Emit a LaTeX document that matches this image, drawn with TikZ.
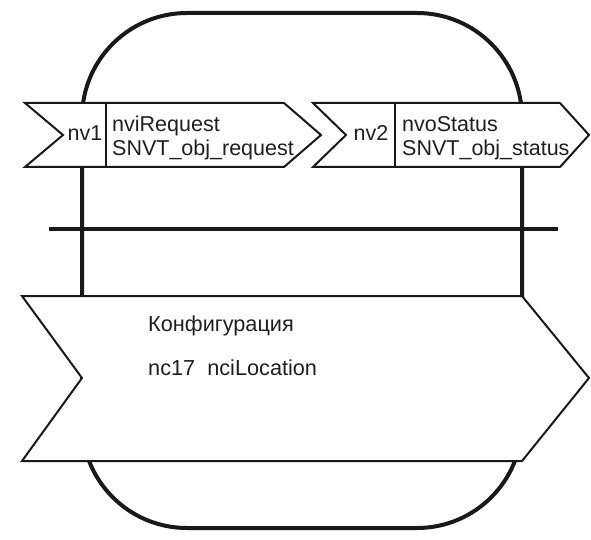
\documentclass[tikz,border=0pt]{standalone}
\usepackage{fontspec}
\setmainfont{Liberation Sans}
\begin{document}
\begin{tikzpicture}[x=1pt,y=-1pt,
  heavy/.style={line width=4pt, draw=black!90},
  band/.style={draw=black!90, line width=2pt, fill=white, line join=miter},
  divider/.style={draw=black!90, line width=2pt},
  lbl/.style={inner sep=0pt, text=black!88, font=\fontsize{21.5}{25}\selectfont},
  biglbl/.style={inner sep=0pt, anchor=base west, text=black!88, font=\fontsize{21.7}{26}\selectfont}]
\useasboundingbox (0,0) rectangle (591,540);
% outer rounded body
\draw[heavy, rounded corners=105pt] (82,13) rectangle (522,528);
% horizontal bar
\coordinate (barL) at (49,229);
\coordinate (barR) at (558,229);
\draw[heavy] (barL) -- (barR);
% band nv1
\draw[band] (25,103) -- (284,103) -- (321,135) -- (284,167) -- (25,167) -- (63,135) -- cycle;
\draw[divider] (106,103) -- (106,167);
\node[lbl, anchor=base] (nv1) at (85,141) {nv1};
\node[lbl, anchor=base west] (nvi) at (112,132) {nviRequest};
\node[lbl, anchor=base west] (nvitype) at (112,156) {SNVT\_obj\_request};
% band nv2
\draw[band] (313,103) -- (560,103) -- (589,135) -- (560,167) -- (313,167) -- (346,135) -- cycle;
\draw[divider] (395,103) -- (395,167);
\node[lbl, anchor=base] (nv2) at (371,141) {nv2};
\node[lbl, anchor=base west] (nvo) at (402,132) {nvoStatus};
\node[lbl, anchor=base west] (nvotype) at (402,156) {SNVT\_obj\_status};
% configuration band
\draw[band] (22,296) -- (522,296) -- (589,378) -- (522,461) -- (22,461) -- (82,378) -- cycle;
\node[biglbl] (cfg) at (148,331) {Конфигурация};
\node[biglbl] (nc) at (148,375) {nc17\ \ nciLocation};
\end{tikzpicture}
\end{document}
